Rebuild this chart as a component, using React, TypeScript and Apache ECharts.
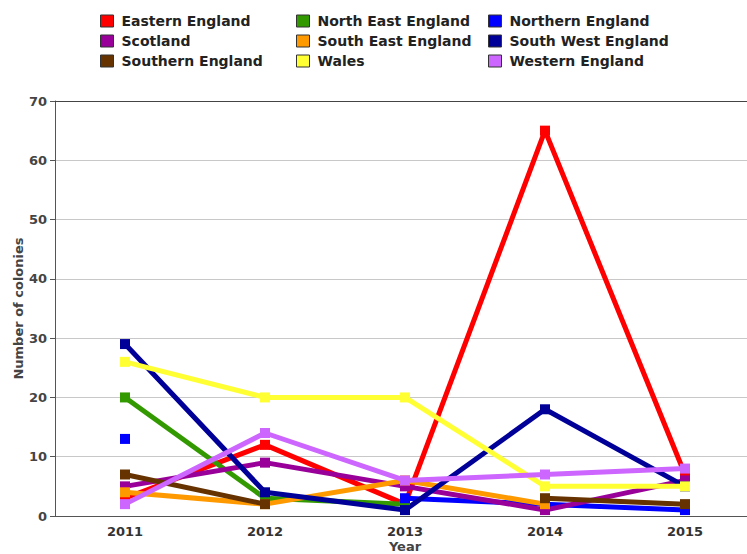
import React, { useEffect, useRef } from "react";
import * as echarts from "echarts";

const years = ["2011", "2012", "2013", "2014", "2015"];

const easternEngland = [3, 12, 2, 65, 7];
const northEastEngland = [20, 3, 2, null, null];
const northernEngland = [13, null, 3, 2, 1];
const scotland = [5, 9, 5, 1, 6];
const southEastEngland = [4, 2, 6, 2, null];
const southWestEngland = [29, 4, 1, 18, 5];
const southernEngland = [7, 2, null, 3, 2];
const wales = [26, 20, 20, 5, 5];
const westernEngland = [2, 14, 6, 7, 8];

const seriesDefs = [
  { name: "Eastern England", data: easternEngland, color: "#FF0000" },
  { name: "North East England", data: northEastEngland, color: "#339900" },
  { name: "Northern England", data: northernEngland, color: "#0000FF" },
  { name: "Scotland", data: scotland, color: "#990099" },
  { name: "South East England", data: southEastEngland, color: "#FF9900" },
  { name: "South West England", data: southWestEngland, color: "#000099" },
  { name: "Southern England", data: southernEngland, color: "#663300" },
  { name: "Wales", data: wales, color: "#FFFF33" },
  { name: "Western England", data: westernEngland, color: "#CC66FF" },
];

const legendCols = [
  ["Eastern England", "Scotland", "Southern England"],
  ["North East England", "South East England", "Wales"],
  ["Northern England", "South West England", "Western England"],
];
const legendLefts = [95, 291, 483];

const FONT = "DejaVu Sans";

export default function App() {
  const ref = useRef<HTMLDivElement>(null);
  useEffect(() => {
    document.body.style.margin = "0";
    const chart = echarts.init(ref.current!, null, { renderer: "svg" });
    const legends = legendCols.map((names, i) => ({
      orient: "vertical",
      left: legendLefts[i],
      top: 9,
      itemGap: 6,
      itemWidth: 13,
      itemHeight: 12,
      icon: "rect",
      itemStyle: { borderColor: "#333", borderWidth: 1 },
      textStyle: { fontFamily: FONT, fontWeight: "bold", fontSize: 14, color: "#222", padding: [0, 0, 0, 3] },
      data: names,
      selectedMode: false,
    }));
    chart.setOption({
      animation: false,
      backgroundColor: "#fff",
      legend: legends,
      grid: { left: 55, top: 101, bottom: 38, right: -8, containLabel: false, outerBoundsMode: "none" },
      xAxis: [
        {
          type: "category",
          data: years,
          boundaryGap: true,
          name: "Year",
          nameLocation: "middle",
          nameGap: 24,
          nameMoveOverlap: false,
          nameTextStyle: { fontFamily: FONT, fontWeight: "bold", fontSize: 13, color: "#444" },
          axisLine: { lineStyle: { color: "#555", width: 1 } },
          axisTick: { alignWithLabel: true, length: 4, lineStyle: { color: "#555" } },
          axisLabel: { fontFamily: FONT, fontWeight: "bold", fontSize: 13, color: "#333", margin: 9 },
          splitLine: { show: false },
        },
        {
          type: "category",
          data: years,
          position: "top",
          axisLine: { show: true, lineStyle: { color: "#444", width: 1 } },
          axisTick: { show: false },
          axisLabel: { show: false },
        },
      ],
      yAxis: {
        type: "value",
        min: 0,
        max: 70,
        interval: 10,
        name: "Number of colonies",
        nameLocation: "middle",
        nameGap: 30,
        nameMoveOverlap: false,
        nameTextStyle: { fontFamily: FONT, fontWeight: "bold", fontSize: 13, color: "#444" },
        axisLine: { show: true, lineStyle: { color: "#555", width: 1 } },
        axisTick: { show: true, length: 5, lineStyle: { color: "#555" } },
        axisLabel: { fontFamily: FONT, fontWeight: "bold", fontSize: 13, color: "#444", margin: 8 },
        splitLine: { lineStyle: { color: "#c8c8c8", width: 1 } },
      },
      series: seriesDefs.map((s) => ({
        name: s.name,
        type: "line",
        data: s.data,
        xAxisIndex: 0,
        color: s.color,
        symbol: "rect",
        symbolSize: 10,
        showSymbol: true,
        showAllSymbol: true,
        connectNulls: false,
        lineStyle: { width: 5, color: s.color },
        itemStyle: { color: s.color, borderWidth: 0 },
        emphasis: { disabled: true },
      })),
    });
    return () => chart.dispose();
  }, []);
  return <div ref={ref} style={{ width: 747, height: 554 }} />;
}
